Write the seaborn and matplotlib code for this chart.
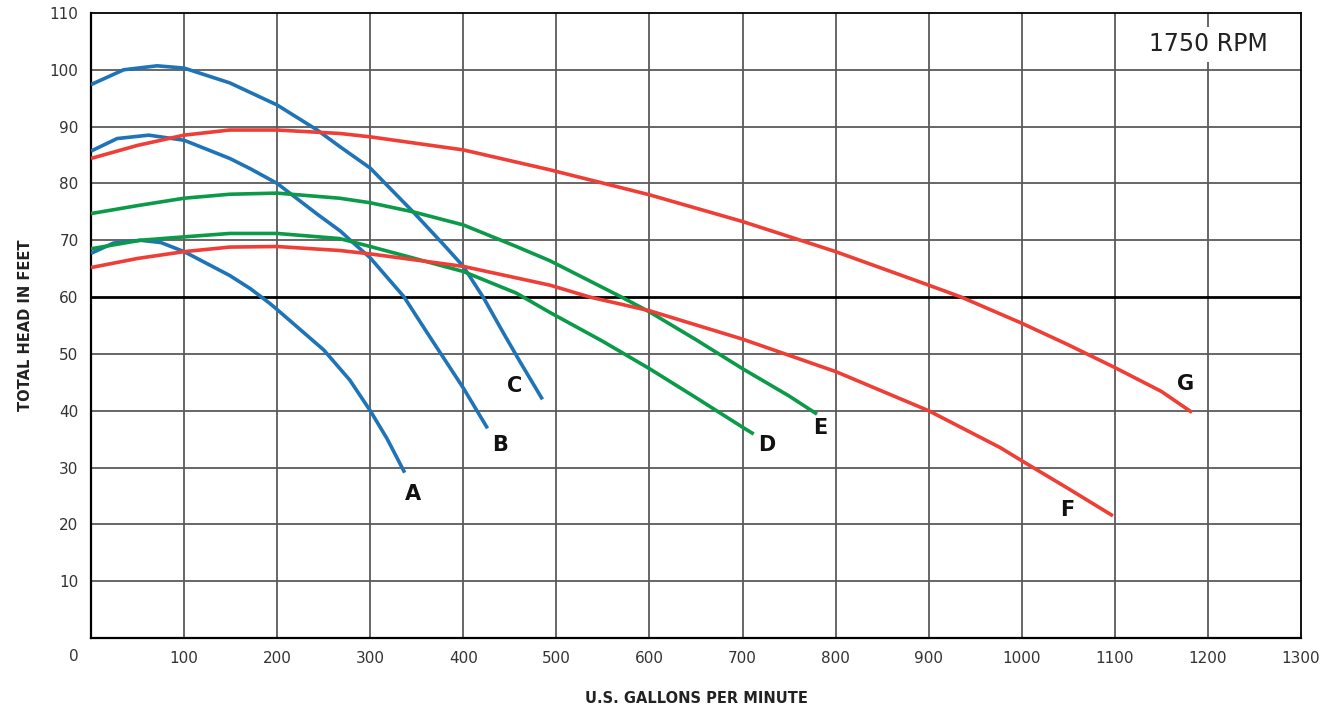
import numpy as np
import pandas as pd
import matplotlib
matplotlib.use("Agg")
import matplotlib.pyplot as plt
import seaborn as sns

# Pump curves (gpm, total head in feet)
a_gpm = [0, 24, 53, 75, 100, 149, 171, 192, 200, 250, 278, 300, 318, 337]
a_head = [67.7, 69.5, 70.0, 69.6, 68.0, 63.8, 61.5, 58.9, 57.8, 50.7, 45.4, 40.0, 35.1, 29.1]

b_gpm = [0, 28, 62, 100, 149, 171, 200, 243, 268, 278, 300, 336, 364, 386, 400, 426]
b_head = [85.7, 87.9, 88.5, 87.6, 84.4, 82.6, 80.0, 74.6, 71.6, 70.1, 66.9, 60.1, 53.0, 47.5, 44.0, 36.9]

c_gpm = [0, 35, 71, 100, 149, 200, 243, 268, 300, 346, 379, 400, 422, 443, 461, 485]
c_head = [97.4, 100.0, 100.7, 100.3, 97.7, 93.8, 89.4, 86.4, 82.7, 75.0, 69.2, 65.4, 59.8, 53.7, 48.6, 42.0]

d_gpm = [0, 53, 100, 149, 200, 267, 300, 400, 457, 493, 550, 600, 650, 700, 712]
d_head = [68.5, 70.0, 70.6, 71.2, 71.2, 70.3, 68.9, 64.5, 60.7, 57.3, 52.2, 47.4, 42.3, 37.1, 35.9]

e_gpm = [0, 50, 100, 149, 200, 267, 300, 346, 400, 457, 493, 570, 600, 650, 700, 750, 780]
e_head = [74.7, 76.1, 77.4, 78.1, 78.3, 77.4, 76.6, 75.0, 72.7, 68.9, 66.4, 60.0, 57.4, 52.5, 47.4, 42.6, 39.4]

f_gpm = [0, 50, 100, 149, 200, 267, 300, 400, 493, 536, 600, 700, 800, 900, 977, 1000, 1050, 1098]
f_head = [65.2, 66.8, 68.0, 68.8, 68.9, 68.2, 67.6, 65.4, 62.1, 60.0, 57.6, 52.6, 46.9, 40.0, 33.5, 31.2, 26.3, 21.5]

g_gpm = [0, 50, 100, 149, 200, 267, 300, 400, 493, 600, 700, 800, 900, 935, 1000, 1050, 1100, 1150, 1183]
g_head = [84.4, 86.7, 88.5, 89.4, 89.4, 88.8, 88.2, 85.9, 82.4, 78.0, 73.3, 68.0, 62.1, 60.0, 55.4, 51.6, 47.6, 43.4, 39.7]

curve_names = ["A", "B", "C", "D", "E", "F", "G"]
curve_gpm = [a_gpm, b_gpm, c_gpm, d_gpm, e_gpm, f_gpm, g_gpm]
curve_head = [a_head, b_head, c_head, d_head, e_head, f_head, g_head]

blue = "#1f73b7"
green = "#0a9a48"
red = "#ee3e36"
palette = {"A": blue, "B": blue, "C": blue, "D": green, "E": green, "F": red, "G": red}

# where the curve letters sit
label_pos = {"A": (346, 25.3), "B": (440, 34.0), "C": (455, 44.4), "D": (726, 34.0),
             "E": (783, 37.0), "F": (1049, 22.5), "G": (1176, 44.7)}

frames = []
for name, x, y in zip(curve_names, curve_gpm, curve_head):
    frames.append(pd.DataFrame({"gpm": x, "head": y, "curve": name}))
data = pd.concat(frames, ignore_index=True)

sns.set_theme(style="white")
plt.rcParams["font.family"] = ["DejaVu Sans"]

fig = plt.figure(figsize=(13.35, 7.09), dpi=100)
ax = fig.add_axes([0.0682, 0.1001, 0.9063, 0.8816])

# grid
for gx in range(100, 1300, 100):
    ax.axvline(gx, color="#5a5a5a", lw=1.3, zorder=1)
for gy in range(10, 110, 10):
    if gy == 60:
        ax.axhline(gy, color="black", lw=2.0, zorder=1)
    else:
        ax.axhline(gy, color="#5a5a5a", lw=1.3, zorder=1)

sns.lineplot(data=data, x="gpm", y="head", hue="curve", palette=palette,
             sort=False, estimator=None, lw=2.6, legend=False, ax=ax, zorder=3,
             solid_joinstyle="round", solid_capstyle="butt")

for name, (lx, ly) in label_pos.items():
    ax.text(lx, ly, name, fontsize=15, fontweight="bold", color="#111111",
            ha="center", va="center")

ax.text(1200, 104.5, "1750 RPM", fontsize=17, color="#222222", ha="center", va="center",
        bbox=dict(facecolor="white", edgecolor="none", pad=4), zorder=5)

ax.set_xlim(0, 1300)
ax.set_ylim(0, 110)
ax.set_xticks(range(100, 1400, 100))
ax.set_yticks(range(10, 120, 10))
ax.tick_params(axis="both", length=0, labelsize=11, labelcolor="#333333")
ax.tick_params(axis="x", pad=9)
ax.tick_params(axis="y", pad=9)
ax.text(-19, -0.03, "0", transform=ax.get_xaxis_transform(), fontsize=11,
        color="#333333", ha="center", va="center")

ax.set_xlabel("U.S. GALLONS PER MINUTE", fontsize=10.5, fontweight="bold",
              color="#222222", labelpad=18)
ax.set_ylabel("TOTAL HEAD IN FEET", fontsize=10.5, fontweight="bold",
              color="#222222", labelpad=12)

for side in ["left", "bottom"]:
    ax.spines[side].set_linewidth(1.6)
    ax.spines[side].set_color("black")
for side in ["top", "right"]:
    ax.spines[side].set_linewidth(1.3)
    ax.spines[side].set_color("black")

plt.savefig("out.png", dpi=100)
